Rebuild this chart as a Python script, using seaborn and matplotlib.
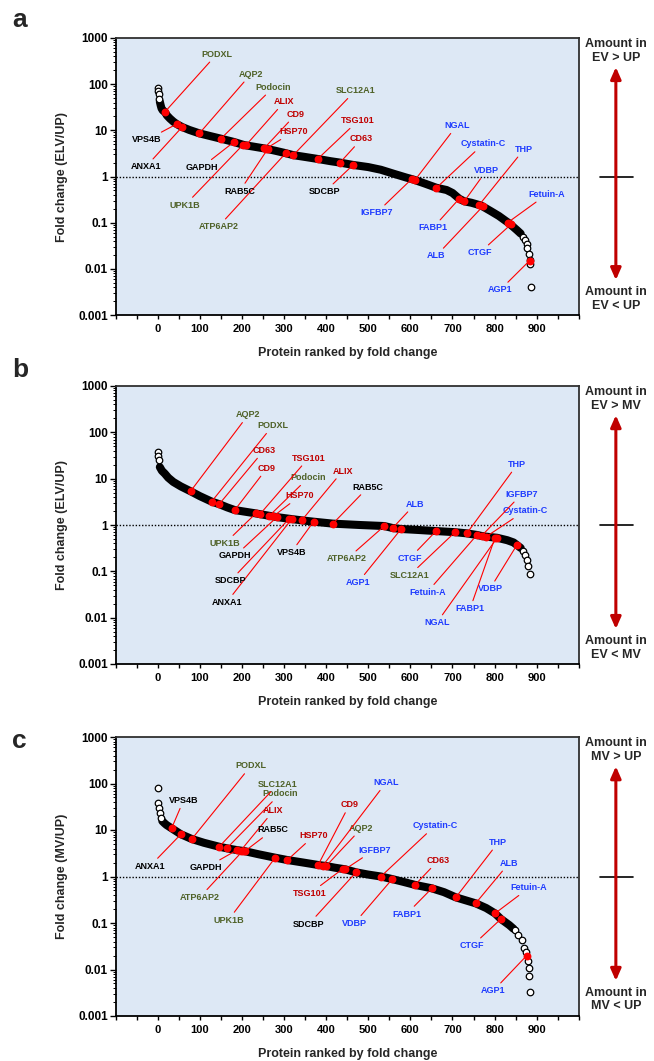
import matplotlib

matplotlib.use("Agg")
import matplotlib.pyplot as plt
import seaborn as sns
from matplotlib.ticker import FixedLocator, LogLocator, NullFormatter

# labelled proteins (same order in every panel)
proteins = ["PODXL", "AQP2", "Podocin", "SLC12A1", "UPK1B", "ATP6AP2",
            "ALIX", "CD9", "HSP70", "TSG101", "CD63",
            "VPS4B", "ANXA1", "GAPDH", "RAB5C", "SDCBP",
            "NGAL", "Cystatin-C", "THP", "VDBP", "Fetuin-A", "IGFBP7",
            "FABP1", "ALB", "CTGF", "AGP1"]
groups = ["kidney"] * 6 + ["ev_marker"] * 5 + ["ev_other"] * 5 + ["soluble"] * 10

# panel a: ELV / UP
band_rank_a = [5, 7, 9, 12, 17, 22, 29, 37, 45, 58, 75, 99, 125, 150, 181, 205, 230, 257,
               280, 304, 322, 350, 380, 410, 433, 464, 500, 530, 560, 590, 607, 635, 662,
               686, 700, 716, 728, 745, 768, 790, 810, 835, 853, 862]
band_fold_a = [42, 35, 30, 27, 25, 21, 18, 15.5, 13.7, 11.8, 10.2, 8.6, 7.5, 6.6, 5.6, 4.8,
               4.4, 4.0, 3.6, 3.2, 2.9, 2.65, 2.4, 2.15, 2.0, 1.78, 1.6, 1.4, 1.15, 0.95,
               0.86, 0.7, 0.57, 0.51, 0.44, 0.33, 0.29, 0.27, 0.235, 0.18, 0.14, 0.096,
               0.069, 0.058]
tail_rank_a = [0, 1, 2, 4, 868, 872, 876, 878, 881, 884, 885, 886]
tail_fold_a = [81, 70, 60, 48, 0.050, 0.042, 0.035, 0.028, 0.021, 0.0155, 0.0126, 0.0041]
rank_a = [17, 99, 150, 322, 202, 304, 209, 253, 257, 380, 433, 45, 58, 181, 261, 464,
          611, 662, 763, 728, 831, 603, 716, 773, 839, 883]
fold_a = [25, 8.6, 6.6, 2.9, 4.8, 3.2, 4.7, 4.1, 4.0, 2.4, 2.0, 13.7, 11.8, 5.6, 3.9, 1.78,
          0.84, 0.57, 0.24, 0.29, 0.10, 0.88, 0.33, 0.23, 0.092, 0.015]

# panel b: ELV / MV
band_rank_b = [5, 10, 17, 25, 37, 55, 78, 100, 128, 146, 165, 183, 210, 233, 265, 283, 316,
               342, 370, 416, 480, 538, 558, 578, 620, 661, 706, 734, 758, 769, 780, 806,
               830, 845, 853, 862]
band_fold_b = [17.8, 14.8, 12.8, 10.5, 8.5, 6.8, 5.35, 4.2, 3.2, 2.82, 2.4, 2.1, 1.92, 1.78,
               1.58, 1.48, 1.35, 1.26, 1.18, 1.07, 1.0, 0.95, 0.86, 0.82, 0.78, 0.74, 0.70,
               0.66, 0.61, 0.58, 0.56, 0.53, 0.47, 0.42, 0.37, 0.32]
tail_rank_b = [0, 1, 2, 868, 873, 876, 880, 884]
tail_fold_b = [37, 30.5, 25.6, 0.28, 0.23, 0.18, 0.128, 0.088]
rank_b = [128, 78, 265, 706, 233, 538, 342, 183, 274, 243, 146, 370, 318, 283, 416, 312,
          806, 780, 734, 853, 758, 769, 801, 558, 661, 578]
fold_b = [3.2, 5.35, 1.58, 0.70, 1.78, 0.95, 1.26, 2.1, 1.53, 1.72, 2.82, 1.18, 1.34, 1.48,
          1.07, 1.36, 0.53, 0.56, 0.66, 0.37, 0.61, 0.58, 0.53, 0.86, 0.74, 0.82]

# panel c: MV / UP
band_rank_c = [11, 16, 21, 33, 55, 81, 110, 146, 164, 188, 207, 240, 279, 308, 345, 381,
               400, 420, 445, 471, 500, 530, 557, 585, 611, 651, 680, 708, 730, 755, 780,
               801, 815, 835, 845]
band_fold_c = [15.5, 14, 12.8, 10.9, 8.1, 6.4, 5.3, 4.37, 4.04, 3.7, 3.5, 3.0, 2.54, 2.26,
               2.0, 1.77, 1.68, 1.55, 1.43, 1.23, 1.1, 1.0, 0.88, 0.76, 0.66, 0.557, 0.46,
               0.356, 0.31, 0.265, 0.21, 0.161, 0.122, 0.09, 0.075]
tail_rank_c = [0, 1, 3, 5, 9, 849, 856, 864, 870, 874, 880, 881, 882, 884]
tail_fold_c = [79, 38.6, 29.3, 22.9, 17.8, 0.071, 0.055, 0.043, 0.0286, 0.024, 0.0154,
               0.0106, 0.0072, 0.00333]
rank_c = [81, 400, 164, 146, 279, 202, 197, 381, 308, 439, 611, 33, 55, 188, 207, 471,
          392, 530, 708, 557, 801, 445, 651, 755, 815, 876]
fold_c = [6.4, 1.68, 4.04, 4.37, 2.54, 3.55, 3.6, 1.77, 2.26, 1.45, 0.66, 10.9, 8.1, 3.7,
          3.5, 1.23, 1.71, 1.0, 0.356, 0.88, 0.161, 1.43, 0.557, 0.265, 0.122, 0.0198]

# label placement (rank, fold) - layout only
label_xy_a = [(140, 443), (221, 164), (275, 85.5), (469, 72), (65, 0.241), (144, 0.0818),
              (301, 41.7), (328, 22.2), (322, 9.3), (476, 16.2), (484, 6.5),
              (-26, 6.2), (-28, 1.63), (104, 1.58), (195, 0.485), (397, 0.469),
              (710, 12.6), (773, 5.06), (870, 3.88), (780, 1.32), (924, 0.411),
              (520, 0.164), (654, 0.0778), (661, 0.019), (765, 0.0224), (813, 0.00348)]
label_xy_b = [(273, 139), (215, 239), (358, 10.5), (598, 0.082), (160, 0.405), (450, 0.187),
              (439, 14.6), (259, 16.6), (338, 4.25), (358, 27.7), (252, 40.5),
              (317, 0.255), (164, 0.0216), (184, 0.217), (500, 6.6), (173, 0.063),
              (663, 0.00783), (872, 2.02), (854, 20.3), (789, 0.0419), (640, 0.0354),
              (864, 4.6), (742, 0.0158), (611, 2.82), (599, 0.193), (476, 0.058)]
label_xy_c = [(221, 238), (484, 10.9), (290, 59.5), (286, 97.5), (168, 0.116), (100, 0.357),
              (275, 26), (455, 34.5), (371, 7.5), (362, 0.435), (666, 2.19),
              (61, 42.7), (-18, 1.68), (115, 1.55), (273, 10), (359, 0.095),
              (542, 104), (658, 12.2), (809, 5.44), (467, 0.0986), (882, 0.574),
              (514, 3.71), (591, 0.156), (834, 1.92), (747, 0.0325), (797, 0.0035)]

GROUP_COLORS = {"kidney": "#4f6228", "ev_marker": "#c00000",
                "ev_other": "#000000", "soluble": "#1f3cff"}
PANEL_BG = "#dde8f5"
RED = "#ff0000"
DARK_RED = "#c00000"

sns.set_theme(style="ticks")
plt.rcParams["font.family"] = ["Liberation Sans", "DejaVu Sans"]
plt.rcParams["font.weight"] = "bold"
plt.rcParams["axes.labelweight"] = "bold"

fig = plt.figure(figsize=(6.54, 10.61), dpi=100)
H = 1061.0


def make_axes(top_px, bottom_px):
    return fig.add_axes([115.6 / 654, 1 - bottom_px / H, 463.2 / 654, (bottom_px - top_px) / H])


def style_axes(ax, ylabel):
    ax.set_facecolor(PANEL_BG)
    ax.set_yscale("log")
    ax.set_ylim(0.001, 1000)
    ax.set_xlim(-100, 1000)
    ax.yaxis.set_major_locator(FixedLocator([0.001, 0.01, 0.1, 1, 10, 100, 1000]))
    ax.set_yticklabels(["0.001", "0.01", "0.1", "1", "10", "100", "1000"])
    ax.yaxis.set_minor_locator(LogLocator(base=10, subs=range(2, 10), numticks=20))
    ax.yaxis.set_minor_formatter(NullFormatter())
    ax.set_xticks(range(0, 1000, 100))
    ax.set_xticks(range(-100, 1001, 50), minor=True)
    ax.tick_params(axis="both", which="both", direction="out", colors="black", labelsize=8)
    ax.tick_params(axis="y", which="major", length=4, width=1, pad=1.5, labelsize=8.5)
    ax.tick_params(axis="y", which="minor", length=2, width=0.7)
    ax.tick_params(axis="x", which="both", length=3, width=1, pad=3.5)
    ax.set_xlabel("Protein ranked by fold change", fontsize=9, labelpad=9.5)
    ax.set_ylabel(ylabel, fontsize=9, labelpad=7)
    for side, spine in ax.spines.items():
        spine.set_color("black" if side in ("left", "bottom") else "#303030")
        spine.set_linewidth(1.3)
    ax.axhline(1, color="black", ls=(0, (1, 1.3)), lw=1, zorder=1.5)


def side_arrow(ax, top_text, bottom_text):
    ax.annotate("", xy=(1.08, 0.895), xytext=(1.08, 0.126), xycoords="axes fraction",
                annotation_clip=False,
                arrowprops=dict(arrowstyle="<|-|>,head_length=0.5,head_width=0.22",
                                color=DARK_RED, lw=2.2, mutation_scale=14,
                                shrinkA=0, shrinkB=0))
    ax.plot([1.045, 1.117], [0.5, 0.5], transform=ax.transAxes, clip_on=False,
            color="black", lw=1.2)
    ax.text(1.08, 0.953, top_text, transform=ax.transAxes, ha="center", va="center",
            fontsize=9, linespacing=1.15)
    ax.text(1.08, 0.058, bottom_text, transform=ax.transAxes, ha="center", va="center",
            fontsize=9, linespacing=1.15)


panels = [
    ("a", 38, 315, 27, "Fold change (ELV/UP)", "Amount in\nEV > UP", "Amount in\nEV < UP",
     band_rank_a, band_fold_a, tail_rank_a, tail_fold_a, rank_a, fold_a, label_xy_a),
    ("b", 386, 664, 377, "Fold change (ELV/UP)", "Amount in\nEV > MV", "Amount in\nEV < MV",
     band_rank_b, band_fold_b, tail_rank_b, tail_fold_b, rank_b, fold_b, label_xy_b),
    ("c", 737, 1016, 748, "Fold change (MV/UP)", "Amount in\nMV > UP", "Amount in\nMV < UP",
     band_rank_c, band_fold_c, tail_rank_c, tail_fold_c, rank_c, fold_c, label_xy_c),
]

for (letter, top, bottom, letter_y, ylabel, up_txt, down_txt,
     b_rank, b_fold, t_rank, t_fold, p_rank, p_fold, label_xy) in panels:
    ax = make_axes(top, bottom)
    style_axes(ax, ylabel)

    # dense run of overlapping circles -> thick black band
    sns.lineplot(x=b_rank, y=b_fold, ax=ax, color="black", lw=5.8, sort=False,
                 estimator=None, solid_capstyle="round", zorder=2)
    # sparse points at both ends stay visible as open circles
    sns.scatterplot(x=t_rank, y=t_fold, ax=ax, s=22, color="white", edgecolor="black",
                    linewidth=0.9, zorder=3)

    for name, grp, x, y, (tx, ty) in zip(proteins, groups, p_rank, p_fold, label_xy):
        ax.annotate(name, xy=(x, y), xytext=(tx, ty), ha="center", va="center",
                    fontsize=6.5, color=GROUP_COLORS[grp], zorder=4, annotation_clip=False,
                    arrowprops=dict(arrowstyle="-", color=RED, lw=0.8, shrinkA=0, shrinkB=0))
    sns.scatterplot(x=p_rank, y=p_fold, ax=ax, s=32, color=RED, edgecolor=RED,
                    linewidth=0, zorder=5)

    side_arrow(ax, up_txt, down_txt)
    fig.text(12 / 654, 1 - letter_y / H, letter, fontsize=19, ha="left", va="baseline")

fig.savefig("out.png", dpi=100, facecolor="white")
